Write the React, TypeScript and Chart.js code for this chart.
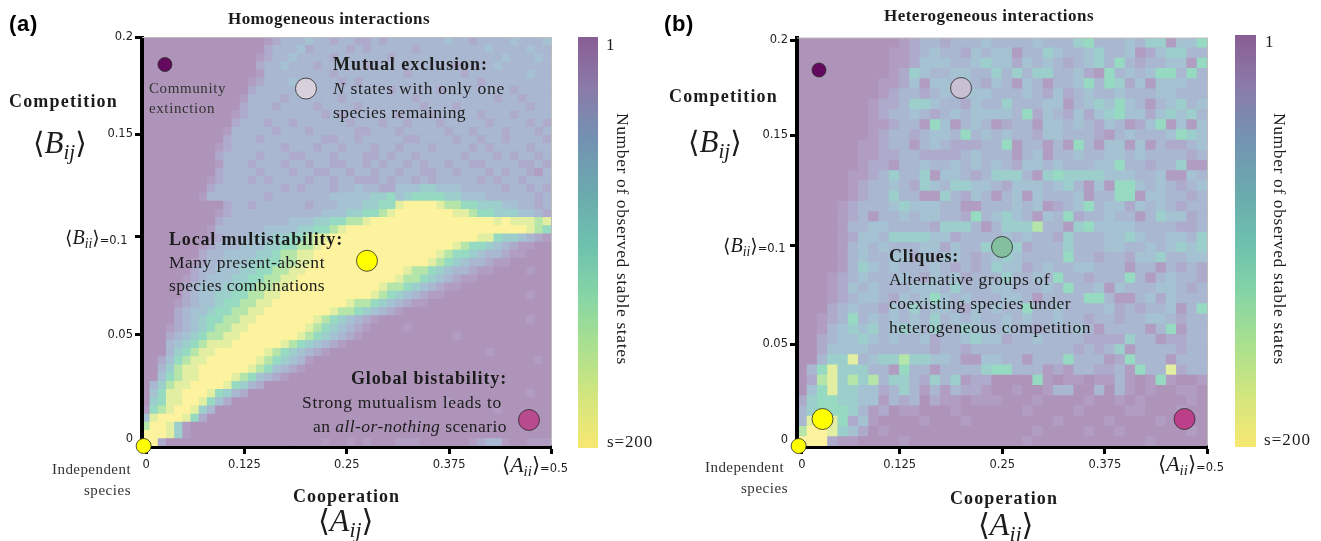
import React, { useEffect, useRef } from "react";
import { Chart, registerables } from "chart.js";

Chart.register(...registerables);

// Level 0 (one stable state, purple) .. level 9 (s=200, yellow), as seen through the chart's transparency
const levelColors = ["#AF94BA", "#B09DC1", "#AEAACB", "#A9B7D0", "#A4C2D1", "#9CCFCB", "#96DAC1", "#B6E5AA", "#E2EEA1", "#FDF39E"];

// Panel (a): 50 rows from the top, 50 columns from the left
const homogeneousRows = [
  "000000000000000 12333433233223233333334332333343334",
  "000000000000000 23334233332323333323333333343333433",
  "00000000000000 123343333233333323333333333333433343",
  "00000000000000 233433323333323333333333233334333333",
  "00000000000000 133333333233333333233333323333333433",
  "0000000000000 1233343333323233333333333333233333333",
  "0000000000000 2333333233333333323333323333333323333",
  "000000000000 13333233333323333333323333333332332333",
  "000000000000 23332333323333233333332333233333333233",
  "00000000000 123333333332323333332333233333233323333",
  "00000000000 233323323333332333233233323333323333232",
  "0000000000 1333332333233333223332333332332333233323",
  "0000000000 2333233333332233233333223333233233233332",
  "000000000 12333333233323323332332333233332323333233",
  "000000000 23333233322333233322323323333323332323323",
  "000000000 13332333233233223323233232332332233332232",
  "000000000 23333233323322332332332332233233323233213",
  "00000000 123332323333233233222323323233333232332333",
  "00000000 233333333232333233433224445544433333233232",
  "0000000 1333333323333333444445564566665544433333323",
  "0000000000 233233333323334 445566 899998 7766 5554 43323",
  "000000000 123333333333344 455667 899999998 8766 5554 432",
  "000000000 2333333334445 56677 89999999999999998988878",
  "00000000 13333334444 55667 899999999999999999999998 76",
  "00000000 1233344 4556678 899999999999999999988 6554321",
  "0000000 123334 44556677 899999999999999998 7665 432 1100",
  "0000000 23344 44556778 89999999999999998 7665 4332 11000",
  "000000 12334 445566778 8999999999999998 765 4332 1100000",
  "000000 2334 445566778 89999999999998 776 5433 2110 000100",
  "00000 1234 445566778 89999999999998 776 5432 110 00000000",
  "00000 234 445566778 8999999999998 776 5432 110 0000000000",
  "00000 234 45566778 8999999999998 765 432 110 000000000100",
  "0000 123 44566778 89999999998 7765 432 110 00000000000000",
  "0000 234 4566778 8999999998 7765 432 100 0000000000000000",
  "0000 23 4566778 899999998 7654 321 000000000000000000100",
  "000 123 456778 899999998 7654 321 0000100000000000000000",
  "000 234 56778 899999998 765 432 10 0000000000100000000000",
  "000 34 56788 89999998 765 432 1 0000000000000000000000000",
  "000 35 678 89999998 765 432 1 000000000000000000010000000",
  "00 24 678 89999998 765 43 1 00000000000000000000000000010",
  "00 35 78 89999998 76 432 1 000000000000000000000000000000",
  "00 46 78 899998 76 432 1 00000000000000000000000010000000",
  "0 35 78 899998 65 32 00000000000000000000000000000000000",
  "0 46 8 89998 65 32 0000000000000000000000000000000000100",
  "0 56 8 8998 64 2 000000000000000000000000001000000000000",
  "1 67 8998 53 00000000000000000000000000000000001000000000",
  "4 8 9998 6 2 000000000000000000000000000000000000000000",
  "7 998 5 1 0000000000000000000000000000000000000000010",
  "9998 5 1 00000000000000000000000000000000000000000000",
  "992 00000000000000000001001010001110000001233100111",
];

// Panel (b): 40 rows from the top, 40 columns from the left
const heterogeneousRows = [
  "0000000000 123323334 333343335633343551446",
  "000000000 1123433243 441335433453341245533",
  "000000000 1124443345 442434323453632334416",
  "000000000 1254334433 535355334216343466363",
  "00000000 11241443432 431431334636524144433",
  "00000000 12332343444 333432423433433344333",
  "0000000 122355433243 353334413454643134534",
  "0000000 123343234344 443624324245644245453",
  "0000000 112331641343 123314434324312461414",
  "0000000 123323443634 343324433321343334654",
  "000000 1123313432223 361331316314414132234",
  "000000 1122332222343 331341334334434333323",
  "000000 1221334334343 432443433344633233511",
  "00000 11235335144323 555315655554443341143",
  "00000 12334325435544 324443453141664343234",
  "00000 12335331153243 134143334133661443323",
  "0000 123334544433113 334341234634424343233",
  "0000 123133434433263 454314362334331354423",
  "0000 133443333255531 355573315644443333223",
  "0000 124435555442333 343433253334454334435",
  "0000 134343334424335 555233353334433434545",
  "0000 134334424344323 454333363323324453344",
  "0000 135434333432323 544234334433313313232",
  "000 1234333432434233 353343633233363134332",
  "000 1243433344435333 443334363341433344323",
  "000 1234432434643433 344313333663113424333",
  "000 2343324353443243 433633433334232334136",
  "00 12363434343534343 343433433233233443233",
  "00 13454534543533544 343323334313333136133",
  "00 23445434334233454 423343333222253312233",
  "00 24444333333233233 333333332323513333233",
  "00 35583455755443114 433133363331263331333",
  "0 368555331633133335 663331213322316338233",
  "0 278575735532535122 000061011011310161001",
  "0 468554423531313221 001001330030310100110",
  "2566554413230211011 100010000100101000010",
  "3566653120110001000 000100001000011000100",
  "3898624100001000100 000000100001000010000",
  "7998542010000000000 000010000100100000010",
  "9992110000100000000 000100000000000100000",
];

const xTickValuesA = [0.005, 0.125, 0.25, 0.375, 0.5];
const xTickValuesB = [0.006, 0.125, 0.25, 0.375, 0.5];
const xTickLabels = ["0", "0.125", "0.25", "0.375", ""];
const yTickValuesA = [0.2, 0.1518, 0.1005, 0.0515, -0.0005];
const yTickValuesB = [0.199, 0.1515, 0.0965, 0.047, -0.001];
const yTickLabels = ["0.2", "0.15", "", "0.05", "0"];

const dotsA = [
  { x: 0.028, y: 0.1865, r: 7, c: "#640A5E" },
  { x: 0.2002, y: 0.1745, r: 10.5, c: "#D8D1DC" },
  { x: 0.2747, y: 0.0885, r: 10.5, c: "#FFFF00" },
  { x: 0.4725, y: 0.009, r: 10.5, c: "#B84A8E" },
  { x: 0.002, y: -0.004, r: 7.5, c: "#FFFF00" },
];
const dotsB = [
  { x: 0.0268, y: 0.184, r: 7, c: "#640A5E" },
  { x: 0.1998, y: 0.175, r: 10.5, c: "#C9C0D4" },
  { x: 0.2497, y: 0.0955, r: 10.5, c: "#84BFA0" },
  { x: 0.0311, y: 0.0095, r: 10.5, c: "#FFFF00" },
  { x: 0.472, y: 0.0095, r: 10.5, c: "#BC4089" },
  { x: 0.002, y: -0.004, r: 7.5, c: "#FFFF00" },
];

const colorbarStops = ["#8A5E94", "#8A7BAA", "#7392B2", "#6BA9AE", "#6DC0AE", "#85D4A6", "#A9E08F", "#D3E67E", "#F7E871"];

const Y_MIN = -0.0045;
const Y_MAX = 0.2;

const framePlugin = {
  id: "frame",
  afterDatasetsDraw(chart: any) {
    const { ctx, chartArea: a } = chart;
    ctx.save();
    ctx.strokeStyle = "#BDBDBD";
    ctx.lineWidth = 1;
    ctx.beginPath();
    ctx.moveTo(a.left, a.top);
    ctx.lineTo(a.right, a.top);
    ctx.lineTo(a.right, a.bottom - 2);
    ctx.stroke();
    ctx.restore();
  },
};

function buildCells(rows: string[], n: number) {
  const pts: any[] = [];
  const cols: string[] = [];
  rows.forEach((raw, r) => {
    const row = raw.replace(/ /g, "").padEnd(n, "0").slice(0, n);
    for (let c = 0; c < n; c++) {
      pts.push({
        x: ((c + 0.5) / n) * 0.5,
        y: Y_MAX - ((r + 0.5) / n) * (Y_MAX - Y_MIN),
      });
      cols.push(levelColors[Number(row[c])]);
    }
  });
  return { pts, cols };
}

function makeChart(canvas: HTMLCanvasElement, o: any) {
  const { pts, cols } = buildCells(o.rows, o.n);
  return new Chart(canvas, {
    type: "scatter",
    plugins: [framePlugin],
    data: {
      datasets: [
        {
          order: 0,
          data: o.dots.map((d: any) => ({ x: d.x, y: d.y })),
          pointStyle: "circle",
          pointRadius: o.dots.map((d: any) => d.r),
          pointBackgroundColor: o.dots.map((d: any) => d.c),
          pointBorderColor: "#2A2A2A",
          pointBorderWidth: 0.8,
          clip: false,
        },
        {
          order: 1,
          data: pts,
          pointStyle: "rect",
          pointRadius: o.cellRadius,
          pointBackgroundColor: cols,
          pointBorderWidth: 0,
          clip: { left: -2, right: 0, top: 0, bottom: -1 },
        },
      ],
    } as any,
    options: {
      animation: false,
      responsive: false,
      events: [],
      layout: { autoPadding: false, padding: o.padding },
      plugins: { legend: { display: false }, tooltip: { enabled: false } },
      scales: {
        x: {
          type: "linear",
          min: 0,
          max: 0.5,
          afterFit: (s: any) => { s.height = 40; },
          afterBuildTicks: (s: any) => { s.ticks = o.xTicks.map((value: number) => ({ value })); },
          border: { width: 4, color: "#000" },
          grid: { drawOnChartArea: false, tickLength: 7, tickWidth: 3, tickColor: "#000" },
          ticks: {
            autoSkip: false,
            maxRotation: 0,
            padding: 4,
            color: "#222",
            font: { family: "DejaVu Sans", size: 11.5 },
            callback: (_v: any, i: number) => xTickLabels[i],
          },
        },
        y: {
          type: "linear",
          min: Y_MIN,
          max: Y_MAX,
          afterFit: (s: any) => { s.width = o.axisWidth; },
          afterBuildTicks: (s: any) => { s.ticks = o.yTicks.map((value: number) => ({ value })); },
          border: { width: 4, color: "#000" },
          grid: {
            drawOnChartArea: false,
            tickLength: 7,
            tickWidth: 3,
            tickColor: (c: any) => (c.index === 4 ? "rgba(0,0,0,0)" : "#000"),
          },
          ticks: {
            autoSkip: false,
            padding: 2,
            color: "#222",
            font: { family: "DejaVu Sans", size: 11.5 },
            callback: (_v: any, i: number) => yTickLabels[i],
          },
        },
      },
    } as any,
  });
}

const SERIF = '"Liberation Serif", serif';
const measureCtx = document.createElement("canvas").getContext("2d")!;

type Piece = { t: string; i?: boolean };

function T(p: {
  x: number; y: number; w: number; size: number; text?: string; pieces?: Piece[];
  bold?: boolean; color?: string; font?: string; vertical?: boolean;
}) {
  const family = p.font || SERIF;
  const pieces: Piece[] = p.pieces || [{ t: p.text || "" }];
  let measured = 0;
  let chars = 0;
  pieces.forEach((q) => {
    measureCtx.font = `${q.i ? "italic " : ""}${p.bold ? "bold " : ""}${p.size}px ${family}`;
    measured += measureCtx.measureText(q.t).width;
    chars += q.t.length;
  });
  const style: React.CSSProperties = {
    position: "absolute",
    left: p.x,
    top: p.y,
    fontFamily: family,
    fontSize: p.size,
    fontWeight: p.bold ? 700 : 400,
    color: p.color || "#1c1c1c",
    whiteSpace: "pre",
    lineHeight: 1,
    letterSpacing: `${(p.w - measured) / chars}px`,
    transform: p.vertical ? "translateX(-50%)" : "translateY(-50%)",
    writingMode: p.vertical ? "vertical-rl" : undefined,
  };
  return (
    <div style={style}>
      {pieces.map((q, i) => (
        <span key={i} style={{ fontStyle: q.i ? "italic" : "normal" }}>{q.t}</span>
      ))}
    </div>
  );
}

function Bracket(p: { x: number; y: number; size: number; letter: string; sub: string; tail?: string }) {
  return (
    <div
      style={{
        position: "absolute", left: p.x, top: p.y, transform: "translateY(-50%)",
        fontFamily: SERIF, fontSize: p.size, lineHeight: 1, color: "#1c1c1c", whiteSpace: "pre",
      }}
    >
      <span style={{ fontFamily: "DejaVu Serif", fontWeight: 300, fontSize: p.size * 0.95 }}>⟨</span>
      <i>{p.letter}</i>
      <i style={{ fontSize: p.size * 0.68, position: "relative", top: p.size * 0.2 }}>{p.sub}</i>
      <span style={{ fontFamily: "DejaVu Serif", fontWeight: 300, fontSize: p.size * 0.95 }}>⟩</span>
      {p.tail ? <span style={{ fontFamily: "DejaVu Sans", fontSize: 11.5 }}>{p.tail}</span> : null}
    </div>
  );
}

function Colorbar(p: { x: number; y: number; w: number; h: number }) {
  return (
    <div
      style={{
        position: "absolute", left: p.x, top: p.y, width: p.w, height: p.h,
        background: `linear-gradient(to bottom, ${colorbarStops.join(",")})`,
      }}
    />
  );
}

export default function App() {
  const a = useRef<HTMLCanvasElement>(null);
  const b = useRef<HTMLCanvasElement>(null);
  useEffect(() => {
    const c1 = makeChart(a.current!, {
      rows: homogeneousRows, n: 50, cellRadius: 6.64, dots: dotsA,
      xTicks: xTickValuesA, yTicks: yTickValuesA, axisWidth: 142,
      padding: { left: 0, right: 108.5, top: 37.5, bottom: 54 },
    });
    const c2 = makeChart(b.current!, {
      rows: heterogeneousRows, n: 40, cellRadius: 8.1, dots: dotsB,
      xTicks: xTickValuesB, yTicks: yTickValuesB, axisWidth: 137,
      padding: { left: 0, right: 113.5, top: 38, bottom: 54 },
    });
    return () => { c1.destroy(); c2.destroy(); };
  }, []);

  return (
    <div style={{ position: "absolute", left: 0, top: 0, width: 1321, height: 541, overflow: "hidden", background: "#fff", filter: "blur(0.5px)" }}>
      <canvas ref={a} width={660} height={541} style={{ position: "absolute", left: 0, top: 0, width: 660, height: 541 }} />
      <canvas ref={b} width={661} height={541} style={{ position: "absolute", left: 660, top: 0, width: 661, height: 541 }} />

      <T x={9} y={24} w={29} size={22} bold text="(a)" font='"Liberation Sans", sans-serif' color="#000" />
      <T x={664} y={24} w={30} size={22} bold text="(b)" font='"Liberation Sans", sans-serif' color="#000" />

      <T x={228} y={18} w={202} size={17} bold text="Homogeneous interactions" />
      <T x={884} y={15} w={210} size={17} bold text="Heterogeneous interactions" />

      <T x={9} y={101} w={109} size={18} bold text="Competition" />
      <T x={669} y={96} w={109} size={18} bold text="Competition" />
      <Bracket x={33} y={143} size={31} letter="B" sub="ij" />
      <Bracket x={688} y={142} size={31} letter="B" sub="ij" />

      <T x={293} y={496} w={107} size={18} bold text="Cooperation" />
      <T x={950} y={498} w={108} size={18} bold text="Cooperation" />
      <Bracket x={318} y={520} size={32} letter="A" sub="ij" />
      <Bracket x={978} y={524} size={32} letter="A" sub="ij" />

      <T x={52} y={469} w={79} size={15} text="Independent" color="#333" />
      <T x={84} y={490} w={47} size={15} text="species" color="#333" />
      <T x={705} y={467} w={79} size={15} text="Independent" color="#333" />
      <T x={741} y={488} w={47} size={15} text="species" color="#333" />

      <Bracket x={65} y={237} size={20} letter="B" sub="ii" tail="=0.1" />
      <Bracket x={723} y={245} size={20} letter="B" sub="ii" tail="=0.1" />
      <Bracket x={502} y={465} size={22} letter="A" sub="ii" tail="=0.5" />
      <Bracket x={1158} y={464} size={22} letter="A" sub="ii" tail="=0.5" />

      <T x={149} y={88} w={77} size={15} text="Community" color="#333" />
      <T x={149} y={108} w={66} size={15} text="extinction" color="#333" />

      <T x={333} y={64} w={155} size={18} bold text="Mutual exclusion:" />
      <T x={333} y={89} w={172} size={17.5} pieces={[{ t: "N", i: true }, { t: " states with only one" }]} />
      <T x={333} y={113} w={133} size={17.5} text="species remaining" />

      <T x={169} y={239} w={174} size={18} bold text="Local multistability:" />
      <T x={169} y={263} w={156} size={17.5} text="Many present-absent" />
      <T x={169} y={286} w={156} size={17.5} text="species combinations" />

      <T x={351} y={378} w={156} size={18} bold text="Global bistability:" />
      <T x={302} y={403} w={200} size={17.5} text="Strong mutualism leads to" />
      <T x={313} y={427} w={194} size={17.5} pieces={[{ t: "an " }, { t: "all-or-nothing", i: true }, { t: " scenario" }]} />

      <T x={889} y={256} w={70} size={18} bold text="Cliques:" />
      <T x={889} y={280} w={161} size={17.5} text="Alternative groups of" />
      <T x={889} y={304} w={182} size={17.5} text="coexisting species under" />
      <T x={889} y={328} w={202} size={17.5} text="heterogeneous competition" />

      <Colorbar x={578} y={37} w={20} h={411} />
      <Colorbar x={1235} y={35} w={21} h={412} />
      <T x={606} y={44} w={8} size={17} text="1" />
      <T x={607} y={441} w={46} size={17} text="s=200" />
      <T x={1265} y={41} w={8} size={17} text="1" />
      <T x={1264} y={439} w={47} size={17} text="s=200" />
      <T x={622} y={113} w={252} size={17.5} vertical text="Number of observed stable states" />
      <T x={1279} y={113} w={252} size={17.5} vertical text="Number of observed stable states" />
    </div>
  );
}
